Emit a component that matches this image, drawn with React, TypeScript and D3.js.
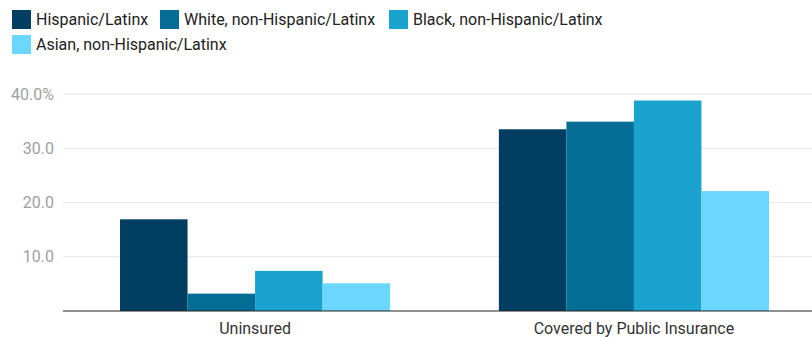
import React from "react";
import * as d3 from "d3";

const categories = ["Uninsured", "Covered by Public Insurance"];
const groups = [
  "Hispanic/Latinx",
  "White, non-Hispanic/Latinx",
  "Black, non-Hispanic/Latinx",
  "Asian, non-Hispanic/Latinx",
];
const hispanic = [16.9, 33.5];
const white = [3.2, 34.9];
const black = [7.4, 38.8];
const asian = [5.1, 22.1];
const seriesValues = [hispanic, white, black, asian];
const colors = ["#013e62", "#036d96", "#1ba3cf", "#6bd6fe"];
const yTicks = [10, 20, 30, 40];
const yTickLabels = ["10.0", "20.0", "30.0", "40.0%"];

const W = 812;
const H = 337;
const FONT = "Roboto, 'Noto Sans', sans-serif";

export default function App() {
  const left = 63;
  const top = 94;
  const bottom = 311;

  const y = d3.scaleLinear().domain([0, 40]).range([bottom, top]);
  const x0 = d3
    .scaleBand<string>()
    .domain(categories)
    .range([left, 826])
    .paddingInner(0.287)
    .paddingOuter(0.1505);
  const x1 = d3
    .scaleBand<string>()
    .domain(groups)
    .range([0, x0.bandwidth()]);

  const legendItems = [
    { x: 12, y: 10 },
    { x: 160, y: 10 },
    { x: 389, y: 10 },
    { x: 12, y: 35 },
  ];

  return (
    <svg
      width={W}
      height={H}
      style={{ position: "absolute", left: 0, top: 0, background: "#fff" }}
      fontFamily={FONT}
    >
      {/* legend */}
      {groups.map((g, i) => (
        <g key={g} transform={`translate(${legendItems[i].x},${legendItems[i].y})`}>
          <rect width={19} height={19} fill={colors[i]} />
          <text x={24} y={9.5} dy="0.36em" fontSize={16} fill="#222">
            {g}
          </text>
        </g>
      ))}

      {/* gridlines and y labels */}
      {yTicks.map((t, i) => (
        <g key={t}>
          <line x1={left} x2={W} y1={y(t)} y2={y(t)} stroke="#e6e6e6" strokeWidth={1} />
          <text
            x={54}
            y={y(t)}
            dy="0.35em"
            textAnchor="end"
            fontSize={16}
            fill="#a0a0a0"
          >
            {yTickLabels[i]}
          </text>
        </g>
      ))}

      {/* bars */}
      {categories.map((c, ci) => (
        <g key={c} transform={`translate(${x0(c)},0)`}>
          {groups.map((g, gi) => (
            <rect
              key={g}
              x={x1(g)}
              y={y(seriesValues[gi][ci])}
              width={x1.bandwidth()}
              height={y(0) - y(seriesValues[gi][ci])}
              fill={colors[gi]}
            />
          ))}
        </g>
      ))}

      {/* baseline */}
      <line x1={left} x2={W} y1={y(0)} y2={y(0)} stroke="#222" strokeWidth={1.2} />

      {/* category labels */}
      {categories.map((c) => (
        <text
          key={c}
          x={(x0(c) as number) + x0.bandwidth() / 2}
          y={328}
          dy="0.35em"
          textAnchor="middle"
          fontSize={16}
          fill="#333"
        >
          {c}
        </text>
      ))}
    </svg>
  );
}
